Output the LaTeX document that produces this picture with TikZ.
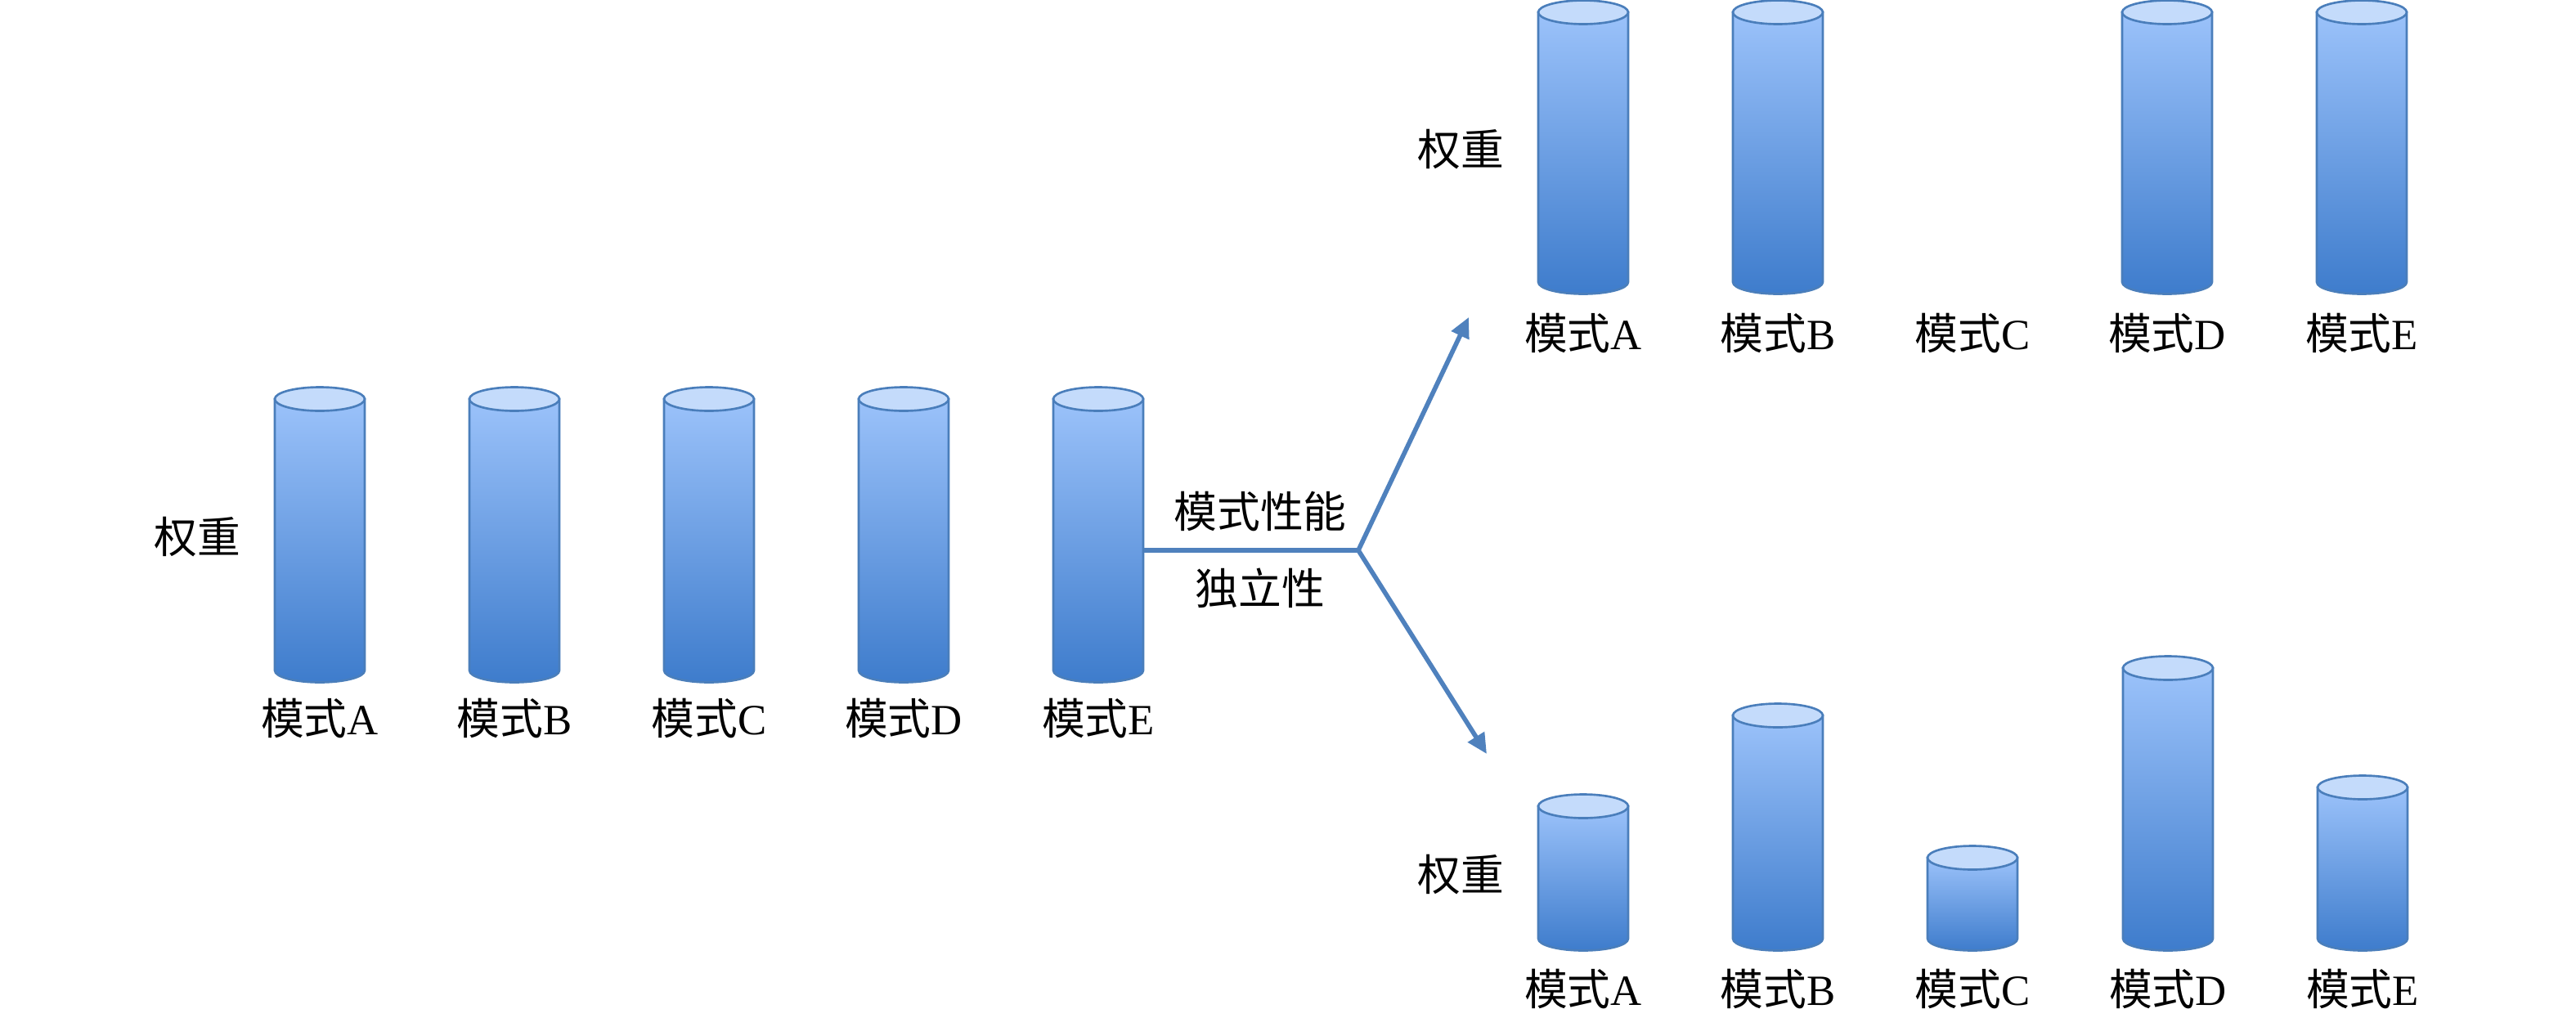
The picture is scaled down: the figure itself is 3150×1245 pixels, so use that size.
\documentclass[tikz,border=0pt]{standalone}
\usepackage{fontspec}
\setmainfont{Liberation Serif}
\newfontfamily\cjk{Noto Sans CJK SC}
\usetikzlibrary{arrows.meta}
\definecolor{cyltop}{RGB}{155,194,250}
\definecolor{cylbot}{RGB}{62,124,204}
\definecolor{capfill}{RGB}{196,219,251}
\definecolor{cylline}{RGB}{74,126,187}
\definecolor{arrcol}{RGB}{79,129,189}
\tikzset{
  cylbody/.style={top color=cyltop, bottom color=cylbot, draw=cylline, line width=0.75pt},
  cylcap/.style={fill=capfill, draw=cylline, line width=0.75pt},
  lbl/.style={inner sep=0pt, font=\fontsize{15pt}{18pt}\selectfont},
  conn/.style={draw=arrcol, line width=1.6pt},
  tip/.style={-{Triangle[length=7pt,width=6.5pt]}}
}
\newcommand\drawcyl[4]{%
  \path[cylbody] (#1-55,#2) -- (#1-55,#3) arc[start angle=180,end angle=0,x radius=55,y radius=14.5] -- (#1+55,#2) -- cycle;
  \draw[cylcap] (#1,#2) ellipse[x radius=55,y radius=14.5];
  \coordinate (#4) at (#1,#2);
}
\newcommand\ms[1]{{\cjk 模式}#1}
\begin{document}
\begin{tikzpicture}[x=0.01cm,y=-0.01cm]
\useasboundingbox (0,0) rectangle (3150,1245);
% left group
\drawcyl{391}{488}{820}{LA}
\drawcyl{629}{488}{820}{LB}
\drawcyl{867}{488}{820}{LC}
\drawcyl{1105}{488}{820}{LD}
\drawcyl{1343}{488}{820}{LE}
\node[lbl] (lw) at (241,657) {\cjk 权重};
\node[lbl] (la) at (391,878) {\ms{A}};
\node[lbl] (lb) at (629,878) {\ms{B}};
\node[lbl] (lc) at (867,878) {\ms{C}};
\node[lbl] (ld) at (1105,878) {\ms{D}};
\node[lbl] (le) at (1343,878) {\ms{E}};
% top right group
\drawcyl{1936}{15}{345}{TA}
\drawcyl{2174}{15}{345}{TB}
\drawcyl{2650}{15}{345}{TD}
\drawcyl{2888}{15}{345}{TE}
\node[lbl] (tw) at (1786,183) {\cjk 权重};
\node[lbl] (ta) at (1936,408) {\ms{A}};
\node[lbl] (tb) at (2174,408) {\ms{B}};
\node[lbl] (tc) at (2412,408) {\ms{C}};
\node[lbl] (td) at (2650,408) {\ms{D}};
\node[lbl] (te) at (2888,408) {\ms{E}};
% bottom right group
\drawcyl{1936}{986}{1148}{BA}
\drawcyl{2174}{875}{1148}{BB}
\drawcyl{2412}{1049}{1148}{BC}
\drawcyl{2651}{817}{1148}{BD}
\drawcyl{2889}{963}{1148}{BE}
\node[lbl] (bw) at (1786,1070) {\cjk 权重};
\node[lbl] (ba) at (1936,1209) {\ms{A}};
\node[lbl] (bb) at (2174,1209) {\ms{B}};
\node[lbl] (bc) at (2412,1209) {\ms{C}};
\node[lbl] (bd) at (2651,1209) {\ms{D}};
\node[lbl] (be) at (2889,1209) {\ms{E}};
% connectors
\coordinate (st) at (1399,673);
\coordinate (jn) at (1661,673);
\coordinate (up) at (1796,388);
\coordinate (dn) at (1818,922);
\draw[conn] (st) -- (jn);
\draw[conn,tip] (jn) -- (up);
\draw[conn,tip] (jn) -- (dn);
\node[lbl] (perf) at (1541,625) {\cjk 模式性能};
\node[lbl] (ind) at (1541,719) {\cjk 独立性};
\end{tikzpicture}
\end{document}
